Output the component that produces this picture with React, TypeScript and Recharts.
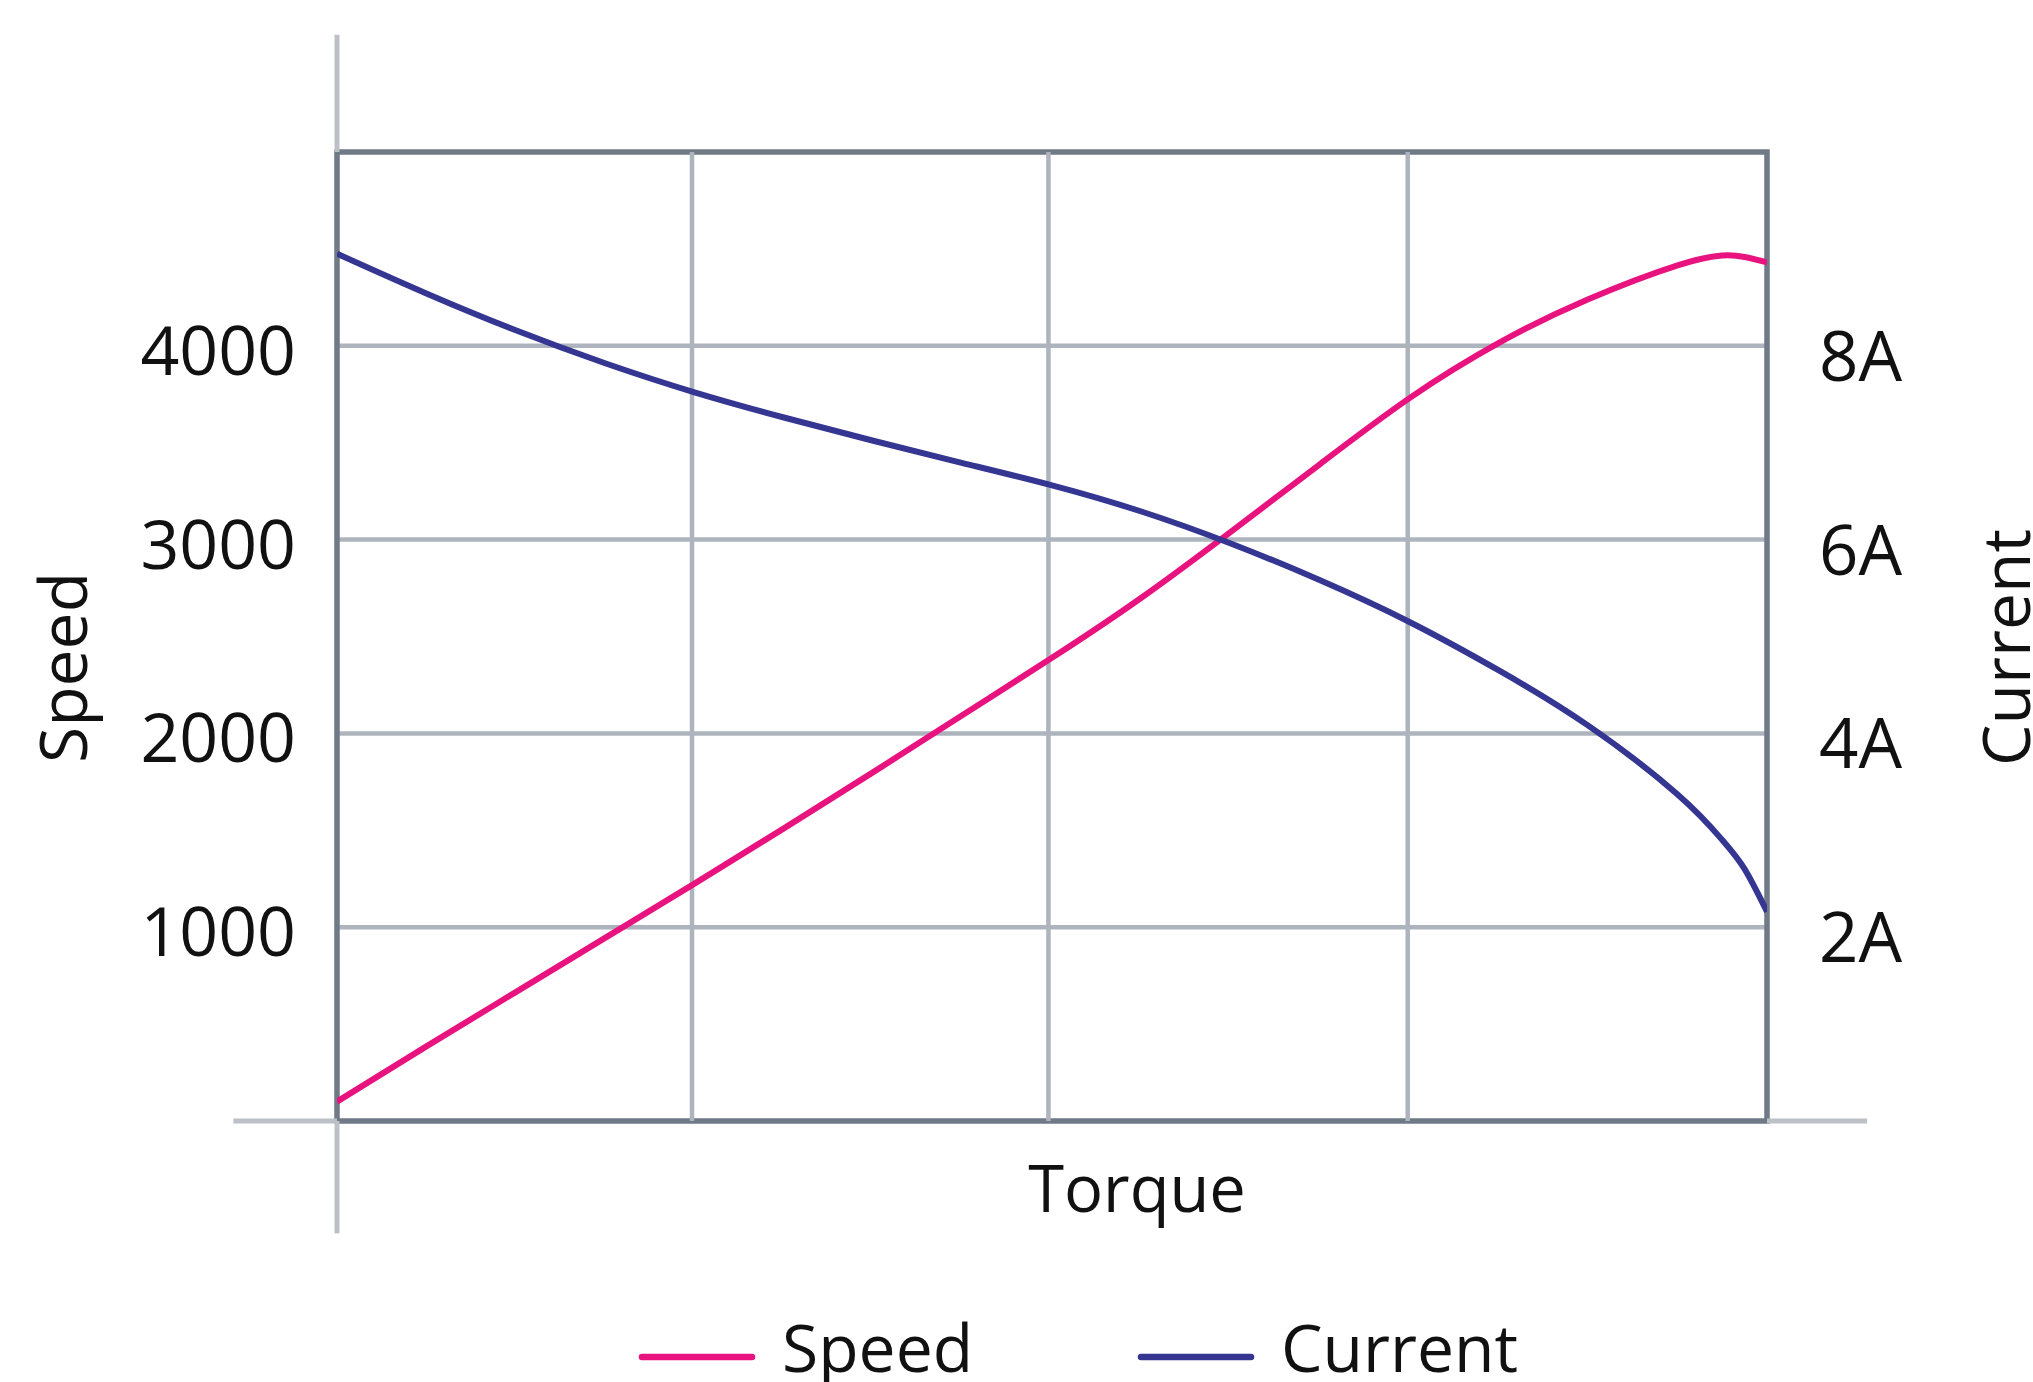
import React from 'react';
import {
  LineChart,
  Line,
  XAxis,
  YAxis,
  CartesianGrid,
  ReferenceArea,
  ReferenceLine,
  Legend,
  Label,
} from 'recharts';

const torque = [0, 0.25, 0.5, 0.75, 1, 1.25, 1.5, 1.75, 2, 2.25, 2.5, 2.75, 3, 3.25, 3.5, 3.75, 3.875, 3.9375, 4];
const speed = [100, 385, 665, 945, 1225, 1510, 1800, 2095, 2390, 2700, 3040, 3390, 3730, 4015, 4240, 4415, 4466, 4458, 4430];
const current = [8.95, 8.54, 8.16, 7.82, 7.52, 7.26, 7.02, 6.79, 6.56, 6.29, 5.96, 5.58, 5.15, 4.65, 4.08, 3.37, 2.9, 2.6, 2.16];

const speedTicks = [1000, 2000, 3000, 4000];
const currentTicks = [2, 4, 6, 8];
const torqueGrid = [0.993, 1.99, 2.995];
const torqueDomain = [0, 4];
const speedDomain = [0, 5000];
const currentDomain = [0, 10];
const legendOrder = ['Speed', 'Current'];
// extension of the light axis lines beyond the plot frame (data units)
const torqueExtent = [-0.29, 4.28];
const speedExtent = [-580, 5605];

const data = torque.map((t, i) => ({ torque: t, speed: speed[i], current: current[i] }));

const FONT = '"Open Sans", "Noto Sans", sans-serif';
const PINK = '#e8137f';
const BLUE = '#343692';
const FRAME = '#707a87';
const GRID = '#adb4bd';
const LIGHT = '#bcc1c7';

const LeftTick = (props: any) => {
  const { x, y, payload } = props;
  return (
    <text x={x} y={y} dy={29} textAnchor="end" fontFamily={FONT} fontSize={68} fill="#111">
      {payload.value}
    </text>
  );
};

const RightTick = (props: any) => {
  const { x, y, payload } = props;
  return (
    <text x={x} y={y} dy={35} textAnchor="start" fontFamily={FONT} fontSize={69} fill="#111">
      {`${payload.value}A`}
    </text>
  );
};

const EmptyTick = () => <g />;

const LegendContent = (props: any) => {
  const payload = [...(props.payload || [])].sort(
    (a: any, b: any) => legendOrder.indexOf(a.value) - legendOrder.indexOf(b.value)
  );
  return (
    <svg width={900} height={90} style={{ overflow: 'visible', display: 'block' }}>
      {payload.map((p: any, i: number) => {
        const ox = i * 499;
        return (
          <g key={p.value}>
            <line x1={ox + 3} x2={ox + 113} y1={47} y2={47} stroke={p.color} strokeWidth={6.5} strokeLinecap="round" />
            <text x={ox + 143} y={62} fontFamily={FONT} fontSize={66} fill="#111">
              {p.value}
            </text>
          </g>
        );
      })}
    </svg>
  );
};

export default function App() {
  return (
    <div style={{ position: 'absolute', left: 0, top: 0, width: 2033, height: 1382, background: '#fff', overflow: 'hidden' }}>
      <LineChart width={2033} height={1382} data={data} margin={{ top: 152, right: 0, bottom: 0, left: 0 }}>
        <CartesianGrid
          stroke={GRID}
          strokeWidth={4.5}
          horizontalValues={speedTicks}
          vertical={false}
        />
        <XAxis
          dataKey="torque"
          type="number"
          domain={torqueDomain}
          ticks={torqueGrid}
          tick={<EmptyTick />}
          tickLine={false}
          axisLine={false}
          height={261}
          allowDataOverflow
        >
          <Label
            content={(p: any) => {
              const vb = p.viewBox;
              return (
                <text x={vb.x + vb.width / 2 + 85} y={vb.y + 91} textAnchor="middle" fontFamily={FONT} fontSize={65} fill="#111">
                  Torque
                </text>
              );
            }}
          />
        </XAxis>
        <YAxis
          type="number"
          domain={speedDomain}
          ticks={speedTicks}
          width={337}
          tickSize={0}
          tickMargin={41}
          tickLine={false}
          axisLine={false}
          tick={<LeftTick />}
          allowDataOverflow
        >
          <Label
            content={(p: any) => {
              const vb = p.viewBox;
              const cx = 87;
              const cy = vb.y + vb.height / 2 + 31;
              return (
                <text x={cx} y={cy} transform={`rotate(-90 ${cx} ${cy})`} textAnchor="middle" fontFamily={FONT} fontSize={66} fill="#111">
                  Speed
                </text>
              );
            }}
          />
        </YAxis>
        <YAxis
          yAxisId="right"
          orientation="right"
          type="number"
          domain={currentDomain}
          ticks={currentTicks}
          width={266}
          tickSize={0}
          tickMargin={52}
          tickLine={false}
          axisLine={false}
          tick={<RightTick />}
          allowDataOverflow
        >
          <Label
            content={(p: any) => {
              const vb = p.viewBox;
              const cx = vb.x + vb.width - 3;
              const cy = vb.y + vb.height / 2 + 11;
              return (
                <text x={cx} y={cy} transform={`rotate(-90 ${cx} ${cy})`} textAnchor="middle" fontFamily={FONT} fontSize={66} fill="#111">
                  Current
                </text>
              );
            }}
          />
        </YAxis>

        {torqueGrid.map((t) => (
          <ReferenceLine key={`v${t}`} x={t} stroke={GRID} strokeWidth={4.5} />
        ))}

        <ReferenceLine
          segment={[{ x: 0, y: speedExtent[0] }, { x: 0, y: speedDomain[0] }]}
          stroke={LIGHT}
          strokeWidth={5}
          ifOverflow="visible"
        />
        <ReferenceLine
          segment={[{ x: 0, y: speedDomain[1] }, { x: 0, y: speedExtent[1] }]}
          stroke={LIGHT}
          strokeWidth={5}
          ifOverflow="visible"
        />
        <ReferenceLine
          segment={[{ x: torqueExtent[0], y: 0 }, { x: torqueDomain[0], y: 0 }]}
          stroke={LIGHT}
          strokeWidth={5}
          ifOverflow="visible"
        />
        <ReferenceLine
          segment={[{ x: torqueDomain[1], y: 0 }, { x: torqueExtent[1], y: 0 }]}
          stroke={LIGHT}
          strokeWidth={5}
          ifOverflow="visible"
        />
        <ReferenceArea
          x1={torqueDomain[0]}
          x2={torqueDomain[1]}
          y1={speedDomain[0]}
          y2={speedDomain[1]}
          fill="none"
          fillOpacity={0}
          stroke={FRAME}
          strokeWidth={5.5}
          ifOverflow="visible"
        />

        <Line
          type="natural"
          dataKey="speed"
          name="Speed"
          stroke={PINK}
          strokeWidth={6}
          dot={false}
          activeDot={false}
          isAnimationActive={false}
        />
        <Line
          type="natural"
          dataKey="current"
          name="Current"
          yAxisId="right"
          stroke={BLUE}
          strokeWidth={6}
          dot={false}
          activeDot={false}
          isAnimationActive={false}
        />
        <Legend
          content={<LegendContent />}
          wrapperStyle={{ position: 'absolute', left: 639, top: 1310, width: 0, height: 0, overflow: 'visible' }}
        />
      </LineChart>
    </div>
  );
}
